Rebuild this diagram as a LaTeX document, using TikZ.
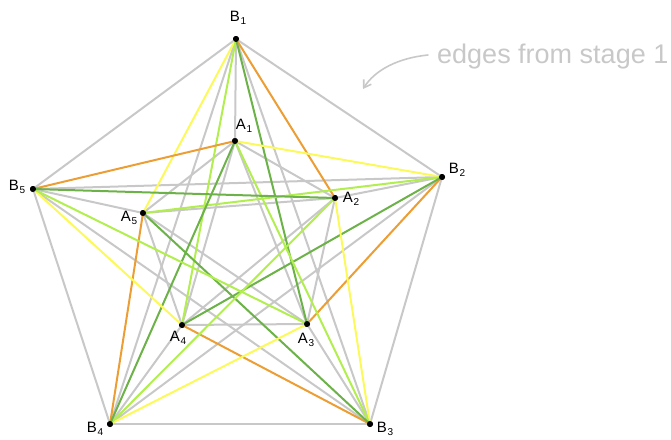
\documentclass[tikz,border=0pt]{standalone}
\usepackage{fontspec}
\setmainfont{Liberation Sans}
\usetikzlibrary{arrows.meta}
\definecolor{eg}{RGB}{200,200,200}
\definecolor{eo}{RGB}{236,158,52}
\definecolor{ey}{RGB}{252,250,90}
\definecolor{el}{RGB}{178,238,80}
\definecolor{ed}{RGB}{108,178,72}
\newcommand{\vlab}[2]{#1\kern0.6pt\raisebox{-2.5pt}{\fontsize{10}{10}\selectfont #2}}
\begin{document}
\begin{tikzpicture}[x=1pt,y=-1pt,
  dot/.style={circle,fill=black,inner sep=0pt,minimum size=6pt},
  edgebase/.style={line width=2pt,line cap=round,shorten <=-2pt,shorten >=-2pt},
  ge/.style={edgebase,eg},
  oe/.style={edgebase,eo},
  ye/.style={edgebase,ey},
  le/.style={edgebase,el},
  de/.style={edgebase,ed},
  lab/.style={font=\fontsize{15}{15}\selectfont,inner sep=0pt}]
\useasboundingbox (0,0) rectangle (671,439);
\node[dot] (B1) at (236,39) {};
\node[dot] (B2) at (442,177) {};
\node[dot] (B3) at (370,424) {};
\node[dot] (B4) at (110,424) {};
\node[dot] (B5) at (33,189) {};
\node[dot] (A1) at (235,141) {};
\node[dot] (A2) at (335,198) {};
\node[dot] (A3) at (307,324) {};
\node[dot] (A4) at (182,325) {};
\node[dot] (A5) at (143,213) {};
\foreach \i in {1,...,5}{
  \foreach \j in {1,...,5}{
    \ifnum\i<\j
      \draw[ge] (B\i) -- (B\j);
      \draw[ge] (A\i) -- (A\j);
    \fi
  }
  \draw[ge] (B\i) -- (A\i);
}
\foreach \i/\a/\b/\c/\d in {1/2/5/3/4, 2/3/1/4/5, 3/4/2/5/1, 4/5/3/1/2, 5/1/4/2/3}{
  \draw[oe] (B\i) -- (A\a);
  \draw[ye] (B\i) -- (A\b);
  \draw[le] (B\i) -- (A\d);
  \draw[de] (B\i) -- (A\c);
}
\foreach \p in {(236,39),(442,177),(370,424),(110,424),(33,189),(235,141),(335,198),(307,324),(182,325),(143,213)}{
  \fill \p circle (3pt);
}
\node[lab] (lB1) at (238,18) {\vlab{B}{1}};
\node[lab] (lA1) at (244,126) {\vlab{A}{1}};
\node[lab] (lB2) at (457,170) {\vlab{B}{2}};
\node[lab] (lA2) at (351,199) {\vlab{A}{2}};
\node[lab] (lB5) at (17,187) {\vlab{B}{5}};
\node[lab] (lA5) at (129,218) {\vlab{A}{5}};
\node[lab] (lA4) at (178,338) {\vlab{A}{4}};
\node[lab] (lA3) at (306,340) {\vlab{A}{3}};
\node[lab] (lB4) at (95,429) {\vlab{B}{4}};
\node[lab] (lB3) at (385,429) {\vlab{B}{3}};
\node[anchor=base west,text=eg,inner sep=0pt,font=\fontsize{27}{27}\selectfont] (cap) at (437,63) {edges from stage 1};
\coordinate (arrS) at (428,55);
\coordinate (arrE) at (363,89);
\draw[eg,line width=1.6pt,line cap=round,-{Straight Barb[length=7pt,width=9pt]}] (arrS) .. controls (398,58) and (375,70) .. (arrE);
\end{tikzpicture}
\end{document}
